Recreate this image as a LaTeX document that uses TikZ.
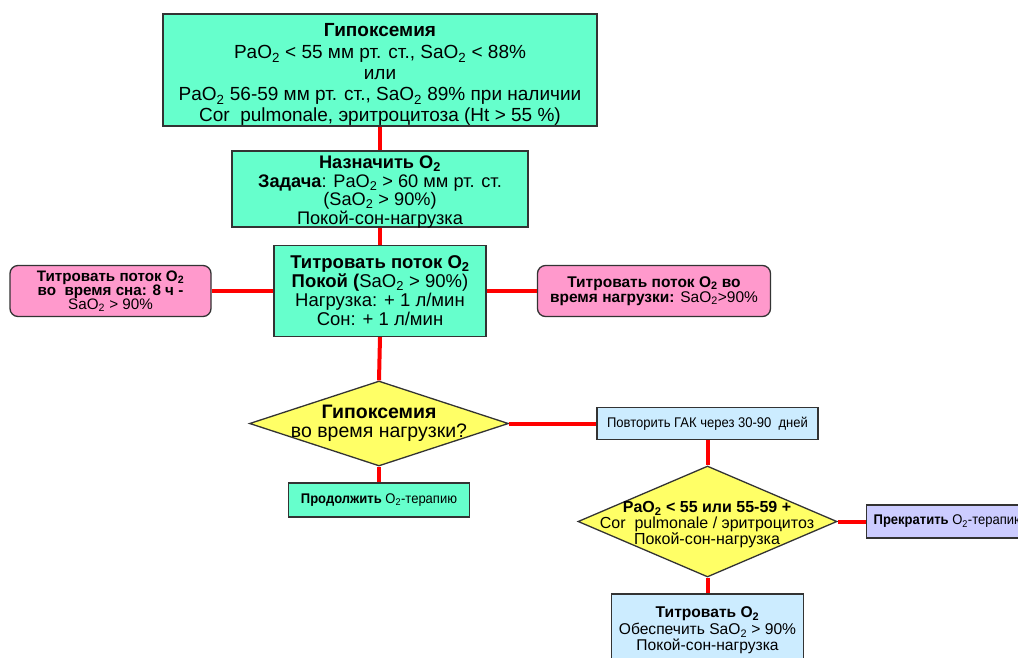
\documentclass[tikz,border=0pt]{standalone}
\usepackage{fontspec}
\setmainfont{Liberation Sans}
\newfontfamily\narrowfont[FakeStretch=0.93]{Liberation Sans}
\usetikzlibrary{shapes.geometric}
\newcommand{\subtwo}{\textsubscript{2}}
\definecolor{aqua}{HTML}{66FFCC}
\definecolor{pinkb}{HTML}{FF99CC}
\definecolor{yel}{HTML}{FFFF66}
\definecolor{lblue}{HTML}{CCECFF}
\definecolor{lav}{HTML}{CCCCFF}
\definecolor{edge}{HTML}{333333}
\tikzset{
  box/.style={draw=edge, line width=1.3pt, align=center, inner sep=0pt, anchor=center},
  dia/.style={draw=edge, line width=1.3pt, diamond, inner sep=0pt, fill=yel},
  link/.style={draw=red, line width=4pt},
  txt/.style={align=center, inner sep=0pt},
}
\begin{document}
\begin{tikzpicture}[x=1pt,y=-1pt]
\useasboundingbox (0,0) rectangle (1018,657);
\clip (0,0) rectangle (1018,657);
\fill[white] (0,0) rectangle (1018,657);

\node[box, fill=aqua, minimum width=434pt, minimum height=112pt] (b1) at (380,70) {};
\node[txt, font=\fontsize{19}{21}\selectfont] (b1t) at (380,74.5)
  {{\bfseries Гипоксемия}\\[1.5pt] PaO\subtwo{} < 55 мм рт. ст., SaO\subtwo{} < 88\%\\ или\\
   PaO\subtwo{} 56-59 мм рт. ст., SaO\subtwo{} 89\% при наличии\\
   Cor\ \ pulmonale, эритроцитоза (Ht > 55 \%)};

\node[box, fill=aqua, minimum width=296pt, minimum height=76pt] (b2) at (380,189) {};
\node[txt, font=\fontsize{18.2}{18.5}\selectfont] (b2t) at (380,192)
  {{\bfseries Назначить O\subtwo}\\ {\bfseries Задача}: PaO\subtwo{} > 60 мм рт. ст.\\
   (SaO\subtwo{} > 90\%)\\ Покой-сон-нагрузка};

\node[box, fill=aqua, minimum width=212pt, minimum height=91pt,
  font=\fontsize{18.5}{19}\selectfont] (b3) at (380,291)
  {{\bfseries Титровать поток O\subtwo}\\ {\bfseries Покой (}SaO\subtwo{} > 90\%)\\
   Нагрузка: + 1 л/мин\\ Сон: + 1 л/мин};

\node[box, fill=pinkb, rounded corners=8pt, minimum width=201pt, minimum height=51pt,
  font=\fontsize{15.2}{14}\selectfont] (pl) at (110.5,291)
  {{\bfseries Титровать поток O\subtwo}\\ {\bfseries во\ \ время сна: 8 ч -}\\ SaO\subtwo{} > 90\%};

\node[box, fill=pinkb, rounded corners=8pt, minimum width=233pt, minimum height=51pt,
  font=\fontsize{15.5}{14}\selectfont] (pr) at (654,291)
  {{\bfseries Титровать поток O\subtwo{} во}\\ {\bfseries время нагрузки:} SaO\subtwo>90\%};

\node[dia, minimum width=259pt, minimum height=85pt] (d1) at (379,423.5) {};
\node[txt, font=\fontsize{19.5}{19}\selectfont] (d1t) at (379,423)
  {{\bfseries Гипоксемия}\\ во время нагрузки?};

\node[box, fill=aqua, minimum width=181pt, minimum height=34pt,
  font=\narrowfont\fontsize{14}{15}\selectfont] (g) at (379,500)
  {{\bfseries Продолжить} O\subtwo-терапию};

\node[box, fill=lblue, minimum width=221pt, minimum height=32pt,
  font=\narrowfont\fontsize{14}{15}\selectfont] (bl) at (707.5,423.5)
  {Повторить ГАК через 30-90\ \ дней};

\node[dia, minimum width=259pt, minimum height=111pt] (d2) at (707.5,521.5) {};
\node[txt, font=\fontsize{16}{16}\selectfont] (d2t) at (707,525)
  {{\bfseries PaO\subtwo{} < 55 или 55-59 +}\\ Cor\ \ pulmonale / эритроцитоз\\ Покой-сон-нагрузка};

\node[box, fill=lav, anchor=west, inner xsep=7pt, minimum height=33pt,
  font=\narrowfont\fontsize{14}{15}\selectfont] (pu) at (866,521.5)
  {{\bfseries Прекратить} O\subtwo-терапию};

\node[box, fill=lblue, minimum width=192pt, minimum height=73pt,
  font=\fontsize{15.6}{16.5}\selectfont] (bt) at (707.5,630.5)
  {{\bfseries Титровать O\subtwo}\\ Обеспечить SaO\subtwo{} > 90\%\\ Покой-сон-нагрузка};

\draw[link] (b1.south) -- (b2.north);
\draw[link] (b2.south) -- (b3.north);
\draw[link] (b3.south) -- (d1.north);
\draw[link] (b3.west) -- (pl.east);
\draw[link] (b3.east) -- (pr.west);
\draw[link] (d1.south) -- (g.north);
\draw[link] (d1.east) -- (bl.west);
\draw[link] (bl.south) -- (d2.north);
\draw[link] (d2.east) -- (pu.west);
\draw[link] (d2.south) -- (bt.north);
\end{tikzpicture}
\end{document}
